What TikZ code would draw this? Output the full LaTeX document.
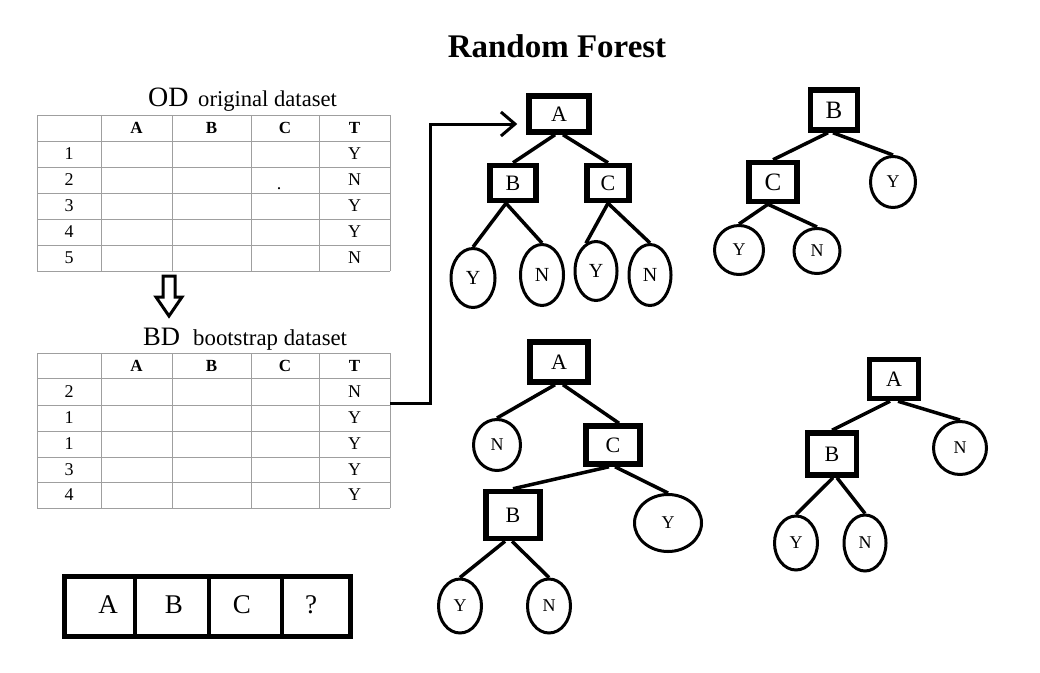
\documentclass[tikz,border=0pt]{standalone}
\usepackage{fontspec}
\setmainfont{Liberation Serif}
\usetikzlibrary{shapes.geometric,arrows.meta}
\begin{document}
\begin{tikzpicture}[x=1pt,y=-1pt,
  fs/.style={font=\fontsize{#1}{#1}\selectfont},
  dbox/.style={draw, line width=5.5pt, inner sep=0pt, fs=22},
  bigbox/.style={dbox, fs=25},
  leaf/.style={draw, ellipse, line width=3pt, inner sep=0pt, fs=18},
  treeedge/.style={line width=3.5pt},
  gridline/.style={draw=gray!75, line width=1pt},
  cell/.style={fs=18, inner sep=0pt},
  headcell/.style={font=\fontsize{17}{17}\selectfont\bfseries, inner sep=0pt}]
\useasboundingbox (0,0) rectangle (1040,672);
\fill[white] (0,0) rectangle (1040,672);

% title
\node[font=\fontsize{33}{33}\selectfont\bfseries, anchor=base, inner sep=0pt] (title) at (557,57) {Random Forest};

% OD table
\node[fs=28, anchor=base west, inner sep=0pt] (odlab) at (148,106) {OD};
\node[fs=22.6, anchor=base west, inner sep=0pt] (odtxt) at (198,106) {original dataset};
\foreach \y in {115,141,167,193,219,245,271} \draw[gridline] (37,\y) -- (390,\y);
\foreach \x in {37,101,172,251,319,390} \draw[gridline] (\x,115) -- (\x,271);
\foreach \h/\x [count=\i] in {A/136.5,B/211.5,C/285,T/354.5} \node[headcell] (odh\i) at (\x,128) {\h};
\foreach \r/\t [count=\i] in {1/Y,2/N,3/Y,4/Y,5/N} {
  \node[cell] (odr\i) at (69,128+26*\i) {\r};
  \node[cell] (odt\i) at (354.5,128+26*\i) {\t};
}
\node[cell, anchor=base] (oddot) at (279,189) {.};

% hollow arrow
\draw[line width=3pt, line join=miter] (163,276) -- (175,276) -- (175,297) -- (182,297) -- (169,316) -- (156,297) -- (163,297) -- cycle;

% BD table
\node[fs=26.6, anchor=base west, inner sep=0pt] (bdlab) at (143,345) {BD};
\node[fs=22.8, anchor=base west, inner sep=0pt] (bdtxt) at (193,345) {bootstrap dataset};
\foreach \y in {353,378,405,431,457,482,508} \draw[gridline] (37,\y) -- (390,\y);
\foreach \x in {37,101,172,251,319,390} \draw[gridline] (\x,353) -- (\x,508);
\foreach \h/\x [count=\i] in {A/136.5,B/211.5,C/285,T/354.5} \node[headcell] (bdh\i) at (\x,365.5) {\h};
\foreach \r/\t/\y [count=\i] in {2/N/391.5,1/Y/418,1/Y/444,3/Y/469.5,4/Y/495} {
  \node[cell] (bdr\i) at (69,\y) {\r};
  \node[cell] (bdt\i) at (354.5,\y) {\t};
}
\coordinate (bdR) at (390,403);

% Tree 1
\node[dbox, minimum width=60pt, minimum height=36pt] (t1A) at (559,114) {A};
\node[dbox, minimum width=46pt, minimum height=35pt] (t1B) at (513,183) {B};
\node[dbox, minimum width=42pt, minimum height=35pt] (t1C) at (608,183) {C};
\node[leaf, minimum width=44pt, minimum height=59pt, fs=20] (t1Y1) at (473,278) {Y};
\node[leaf, minimum width=43pt, minimum height=61pt, fs=20] (t1N1) at (542,275) {N};
\node[leaf, minimum width=42pt, minimum height=59pt, fs=20] (t1Y2) at (596,271) {Y};
\node[leaf, minimum width=42pt, minimum height=61pt, fs=20] (t1N2) at (650,275) {N};
\draw[treeedge] ([xshift=-4pt]t1A.south) -- (t1B.north);
\draw[treeedge] ([xshift=4pt]t1A.south) -- (t1C.north);
\draw[treeedge] ([xshift=-7pt]t1B.south) -- (t1Y1.north);
\draw[treeedge] ([xshift=-7pt]t1B.south) -- (t1N1.north);
\draw[treeedge] (t1C.south) -- (t1Y2.110);
\draw[treeedge] (t1C.south) -- (t1N2.north);

% connector
\draw[line width=3pt, line join=miter, -{Straight Barb[length=14pt,width=24pt]}, shorten >=9pt]
  (bdR) -- (430,403) |- ([yshift=-10pt]t1A.west);

% Tree 2
\node[bigbox, minimum width=47pt, minimum height=40pt] (t2B) at (834,110) {B};
\node[bigbox, minimum width=48pt, minimum height=39pt] (t2C) at (773,182) {C};
\node[leaf, minimum width=45pt, minimum height=51pt] (t2Y) at (893,182) {Y};
\node[leaf, minimum width=49pt, minimum height=49pt] (t2Y2) at (739,250) {Y};
\node[leaf, minimum width=46pt, minimum height=45pt] (t2N) at (817,251) {N};
\draw[treeedge] ([xshift=-6pt]t2B.south) -- (t2C.north);
\draw[treeedge] ([xshift=-1pt]t2B.south) -- (t2Y.north);
\draw[treeedge] ([xshift=-5pt]t2C.south) -- (t2Y2.north);
\draw[treeedge] ([xshift=-5pt]t2C.south) -- (t2N.north);

% Tree 3
\node[dbox, minimum width=58pt, minimum height=40pt] (t3A) at (559,362) {A};
\node[leaf, minimum width=47pt, minimum height=51pt] (t3N) at (497,445) {N};
\node[dbox, minimum width=54pt, minimum height=38pt] (t3C) at (613,445) {C};
\node[dbox, minimum width=54pt, minimum height=47pt] (t3B) at (513,515) {B};
\node[leaf, minimum width=67pt, minimum height=57pt] (t3Y) at (668,523) {Y};
\node[leaf, minimum width=43pt, minimum height=54pt] (t3Y2) at (460,606) {Y};
\node[leaf, minimum width=43pt, minimum height=54pt] (t3N2) at (549,606) {N};
\draw[treeedge] ([xshift=-4pt]t3A.south) -- (t3N.north);
\draw[treeedge] ([xshift=4pt]t3A.south) -- ([xshift=6pt]t3C.north);
\draw[treeedge] ([xshift=-4pt]t3C.south) -- (t3B.north);
\draw[treeedge] ([xshift=2pt]t3C.south) -- (t3Y.north);
\draw[treeedge] ([xshift=-8pt]t3B.south) -- (t3Y2.north);
\draw[treeedge] ([xshift=-1pt]t3B.south) -- (t3N2.north);

% Tree 4
\node[dbox, minimum width=49pt, minimum height=39pt] (t4A) at (894,379) {A};
\node[dbox, minimum width=49pt, minimum height=42pt] (t4B) at (832,454) {B};
\node[leaf, minimum width=53pt, minimum height=53pt] (t4N) at (960,448) {N};
\node[leaf, minimum width=43pt, minimum height=54pt] (t4Y) at (796,543) {Y};
\node[leaf, minimum width=42pt, minimum height=56pt] (t4N2) at (865,543) {N};
\draw[treeedge] ([xshift=-4pt]t4A.south) -- (t4B.north);
\draw[treeedge] ([xshift=4pt]t4A.south) -- (t4N.north);
\draw[treeedge] ([xshift=1pt]t4B.south) -- (t4Y.north);
\draw[treeedge] ([xshift=5pt]t4B.south) -- (t4N2.north);

% bottom feature box
\draw[line width=5pt] (64.5,576.5) rectangle (350.5,636.5);
\foreach \x in {135,209,282} \draw[line width=4pt] (\x,576) -- (\x,637);
\foreach \t/\x [count=\i] in {A/108,B/174,C/242,?/311} \node[fs=27, inner sep=0pt] (fb\i) at (\x,605) {\t};
\end{tikzpicture}
\end{document}
